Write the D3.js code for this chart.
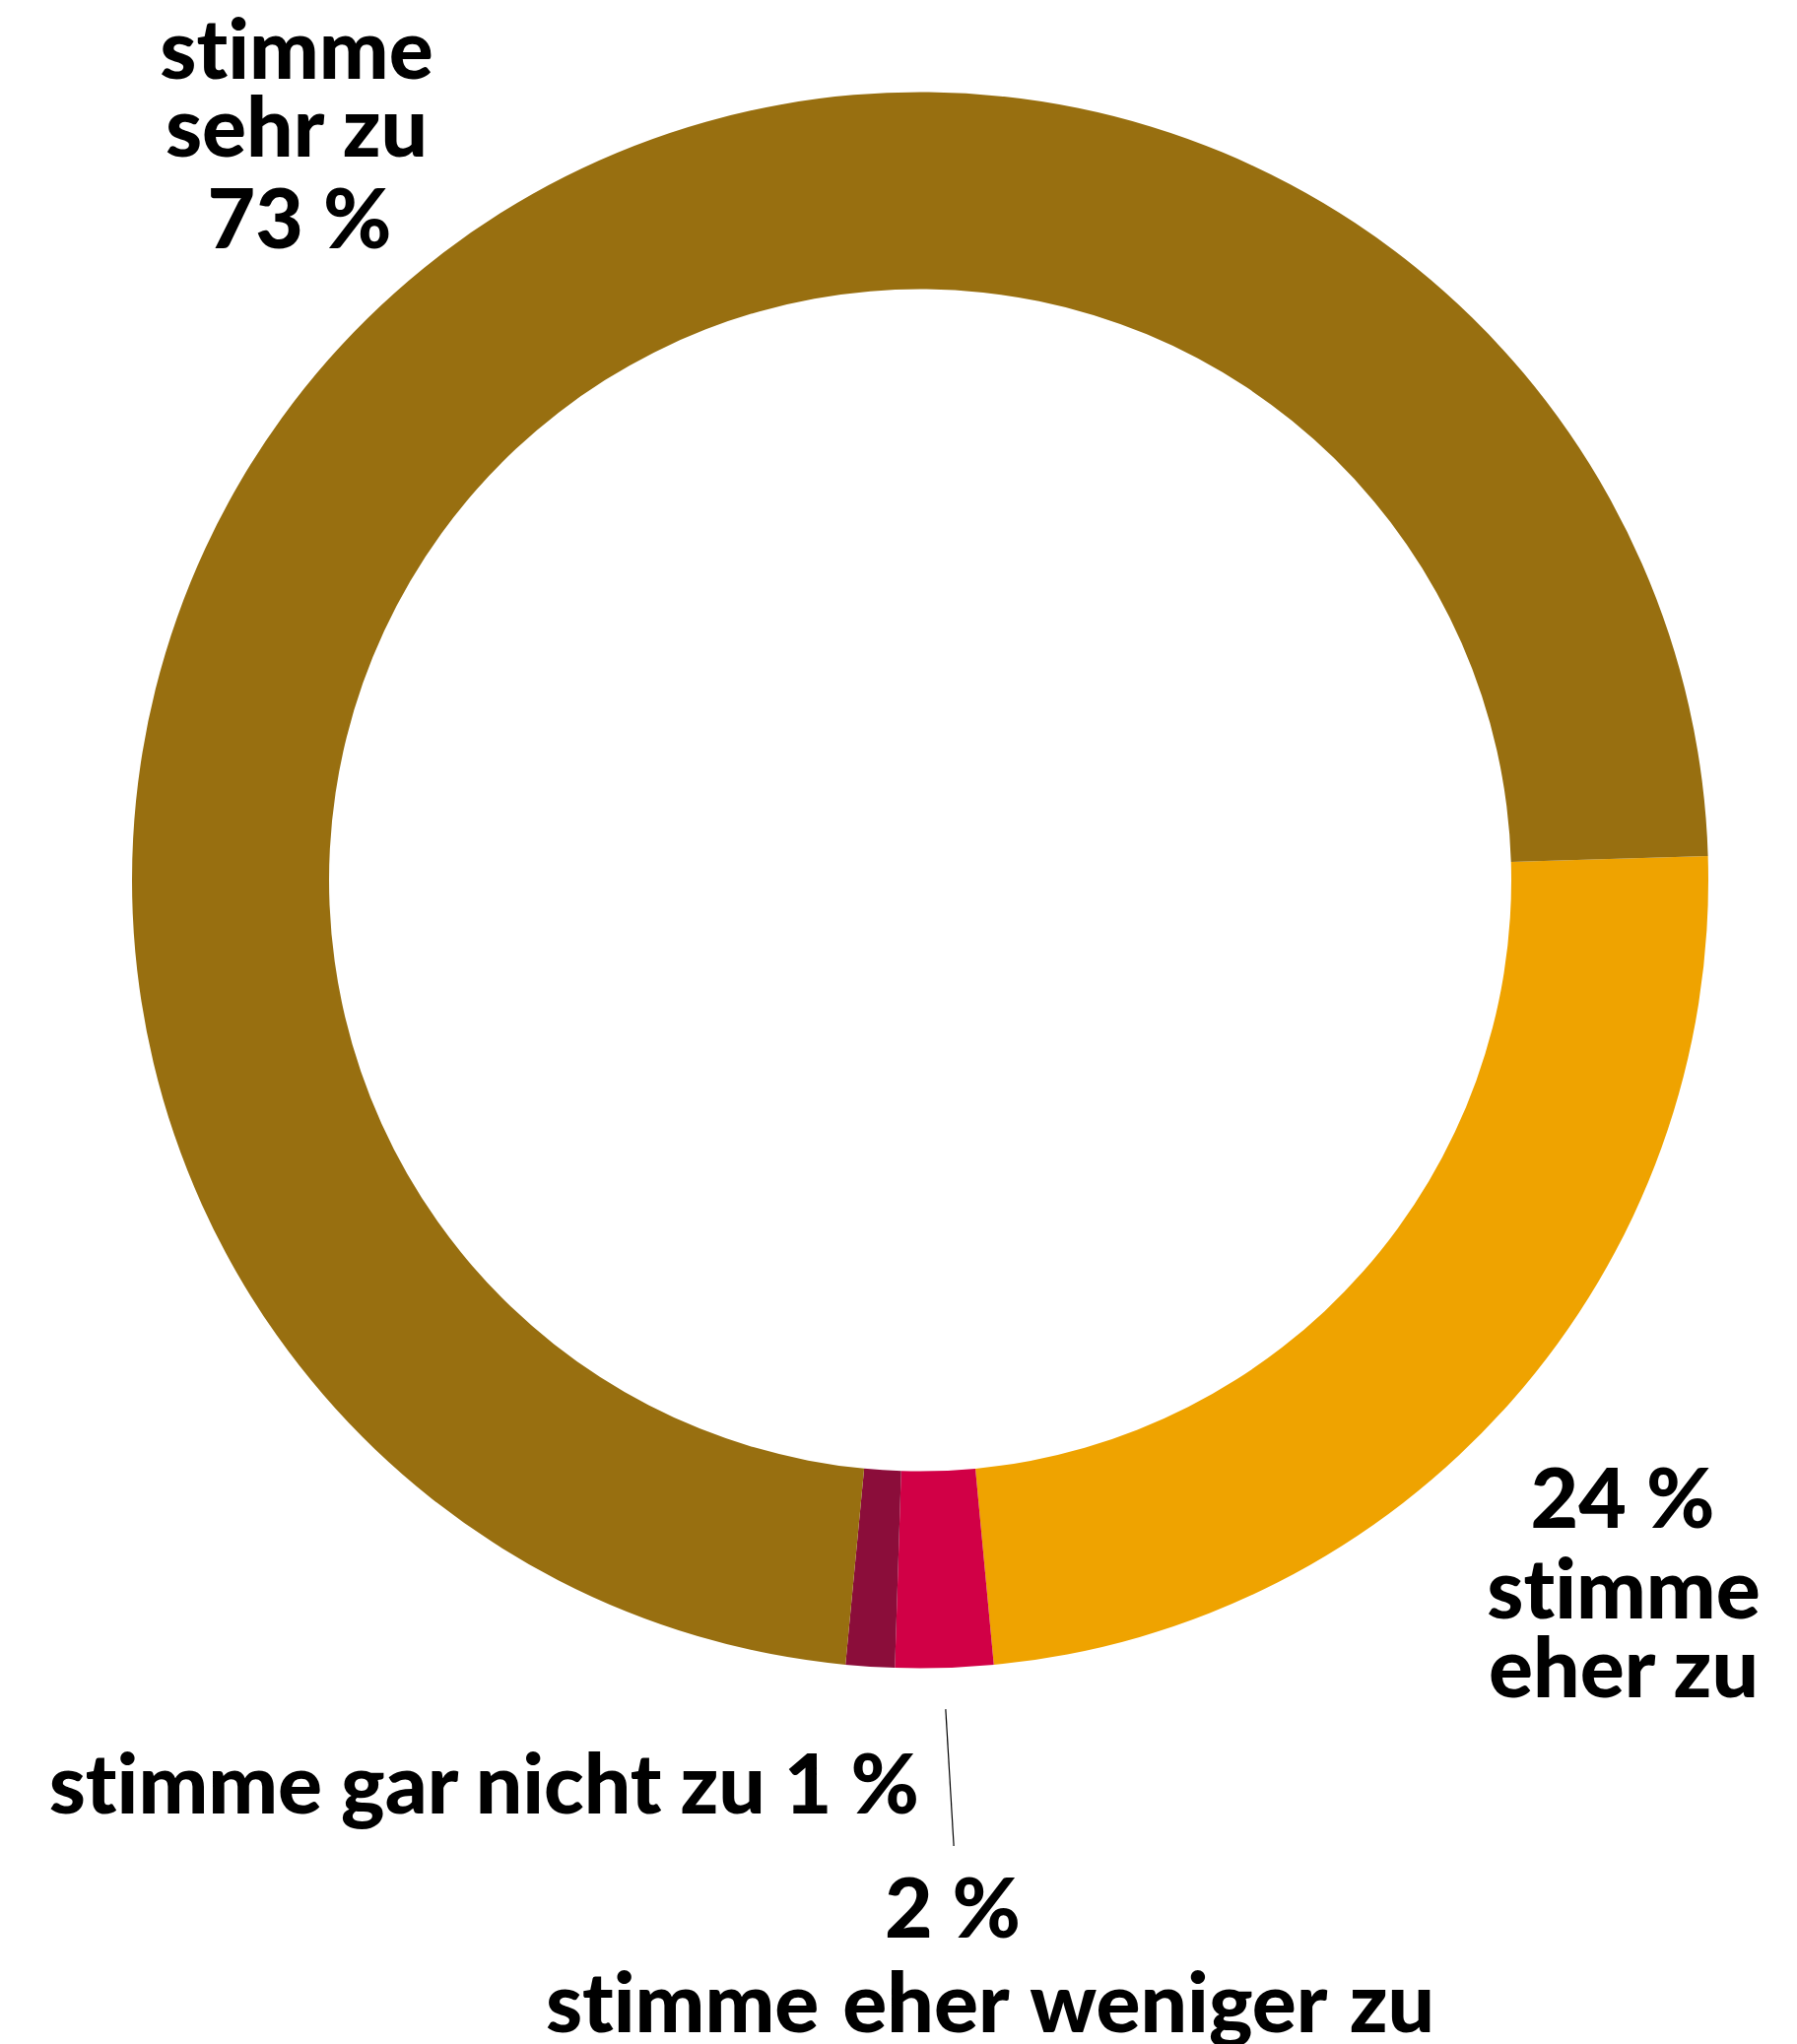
<!DOCTYPE html>
<html>
<head>
<meta charset="utf-8">
<script src="https://cdn.jsdelivr.net/npm/d3@7"></script>
<style>
  html, body { margin: 0; padding: 0; background: #ffffff; }
  svg { display: block; }
  text { font-family: Lato, "Open Sans", sans-serif; font-weight: 900; fill: #000; font-variant-ligatures: none; }
</style>
</head>
<body>
<svg id="chart" width="1824" height="2075"></svg>
<script>
// ---- data ----
const categories = ["stimme eher zu", "stimme eher weniger zu", "stimme gar nicht zu", "stimme sehr zu"];
const values = [24, 2, 1, 73];
const colors = ["#EFA300", "#D10046", "#8B0D3A", "#986F10"];
const percentLabels = ["24 %", "2 %", "1 %", "73 %"];

// ---- layout ----
const cx = 934, cy = 893.5;
const outerR = 800, innerR = 600;
const startDeg = 88.24;
const fontSize = 84;

const svg = d3.select("#chart");
const g = svg.append("g").attr("transform", `translate(${cx},${cy})`);

const data = categories.map((c, i) => ({ cat: c, value: values[i], color: colors[i], pct: percentLabels[i] }));

const pie = d3.pie()
  .value(d => d.value)
  .sort(null)
  .startAngle(startDeg * Math.PI / 180)
  .endAngle(startDeg * Math.PI / 180 + 2 * Math.PI);

const arc = d3.arc().innerRadius(innerR).outerRadius(outerR);
const arcs = pie(data);

g.selectAll("path.slice")
  .data(arcs)
  .join("path")
  .attr("class", "slice")
  .attr("d", arc)
  .attr("fill", d => d.data.color);

// leader line for the small "eher weniger" slice
const wen = arcs[1];
const midA = (wen.startAngle + wen.endAngle) / 2;
const r1 = outerR + 42, r2 = outerR + 181;
svg.append("line")
  .attr("x1", cx + r1 * Math.sin(midA)).attr("y1", cy - r1 * Math.cos(midA))
  .attr("x2", cx + r2 * Math.sin(midA) + 4).attr("y2", cy - r2 * Math.cos(midA))
  .attr("stroke", "#000").attr("stroke-width", 1.2);

// labels
const labelSpecs = [
  { lines: ["stimme", "sehr zu", data[3].pct], xs: [301, 301, 304], ys: [80, 159, 252], anchor: "middle" },
  { lines: [data[0].pct, "stimme", "eher zu"], xs: [1647, 1648, 1648], ys: [1551, 1643, 1723], anchor: "middle" },
  { lines: [data[2].cat + " " + data[2].pct], xs: [933], ys: [1841], anchor: "end", ws: [-1] },
  { lines: [data[1].pct, data[1].cat], xs: [967, 1005], ys: [1967, 2063], anchor: "middle", ws: [0, 4] }
];

labelSpecs.forEach(spec => {
  spec.lines.forEach((line, i) => {
    svg.append("text")
      .attr("x", spec.xs[i])
      .attr("y", spec.ys[i])
      .attr("text-anchor", spec.anchor)
      .attr("font-size", fontSize)
      .attr("word-spacing", spec.ws ? spec.ws[i] : 0)
      .text(line);
  });
});
</script>
</body>
</html>
